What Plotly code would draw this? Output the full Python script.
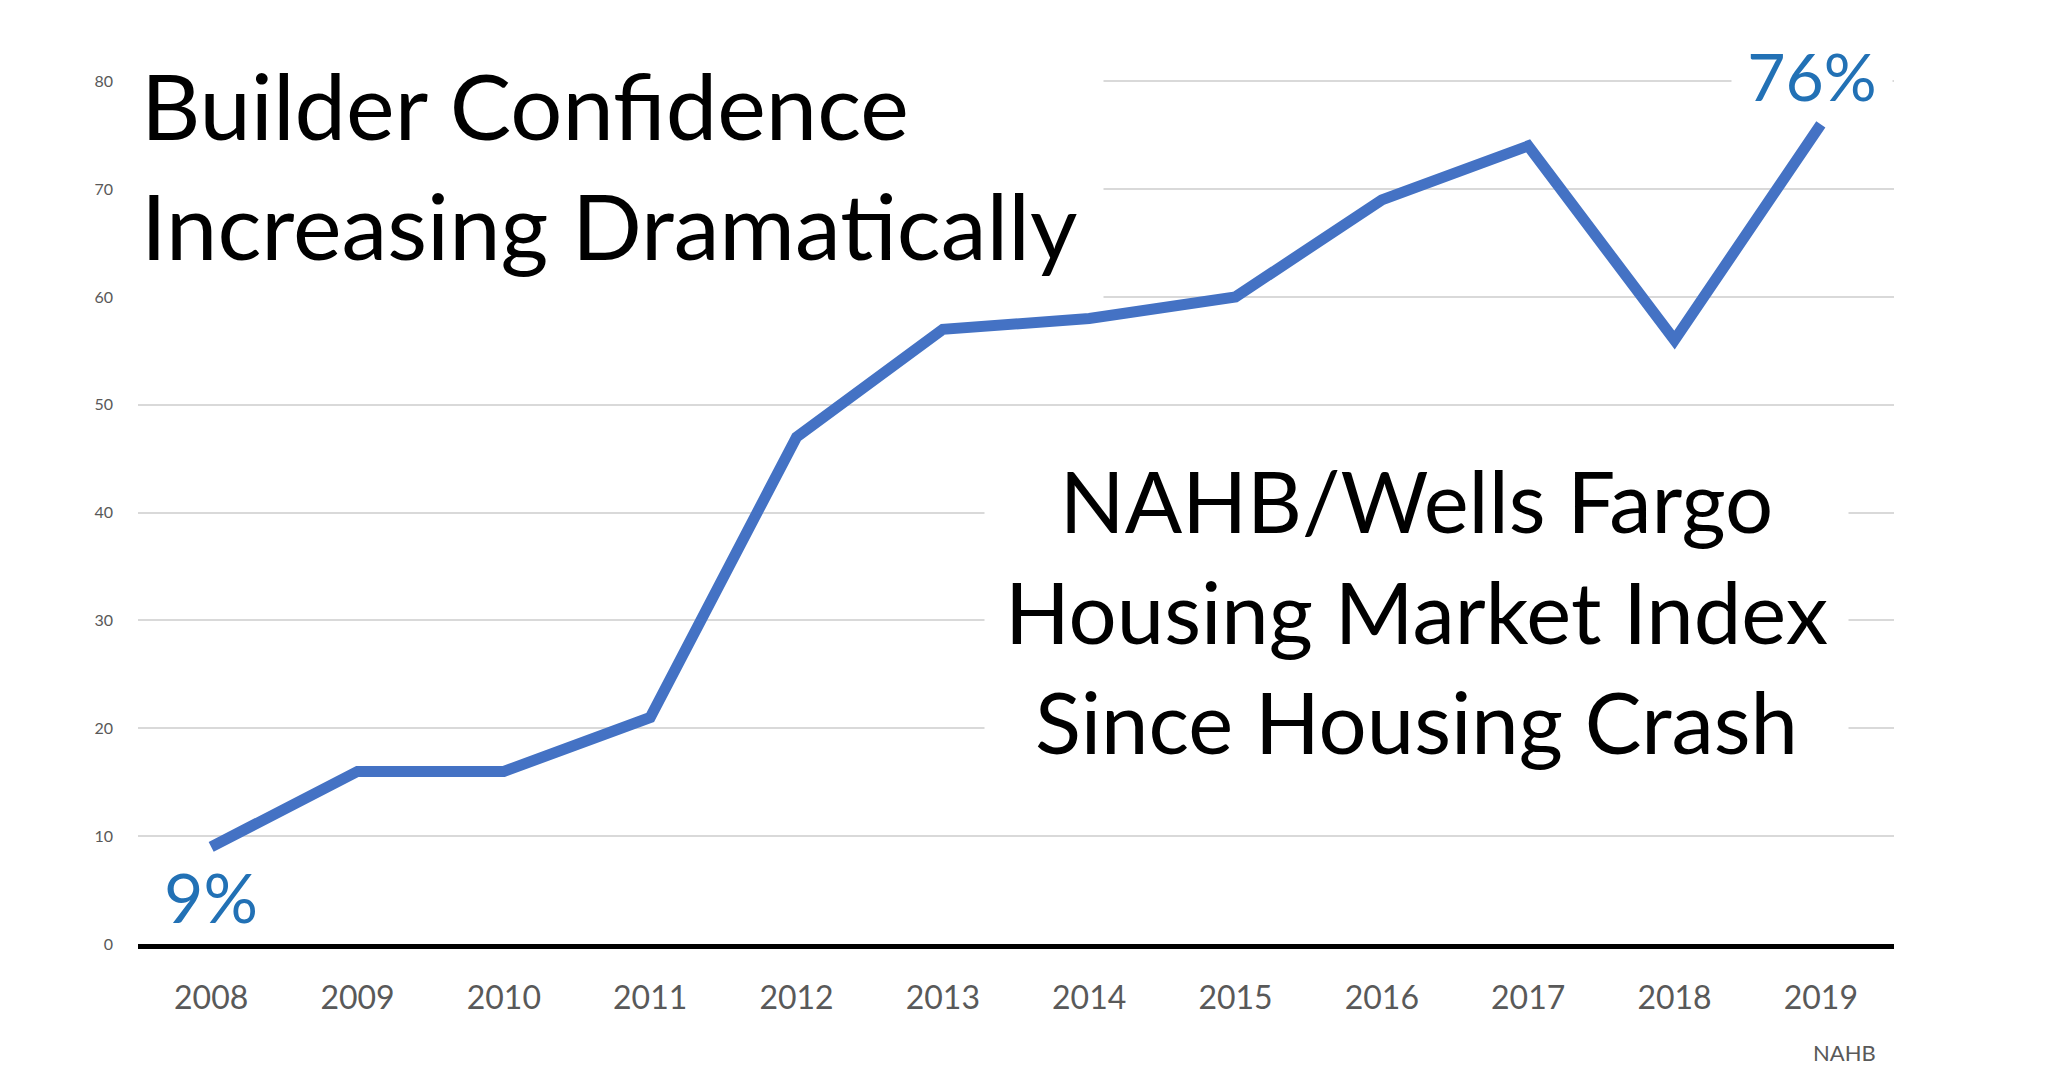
"""
Builder confidence chart: NAHB/Wells Fargo Housing Market Index since the housing crash.
"""

import plotly.graph_objects as go

# Data
years = ['2008', '2009', '2010', '2011', '2012', '2013',
         '2014', '2015', '2016', '2017', '2018', '2019']
hmi = [9, 16, 16, 21, 47, 57, 58, 60, 69, 74, 56, 76]
y_ticks = [0, 10, 20, 30, 40, 50, 60, 70, 80]

font_family = 'Lato'
blue_line = '#4472C4'
blue_text = '#2271B5'
grey_text = '#595959'

# a hair above 80 so plotly still draws the top gridline
y_top = 80.3

fig = go.Figure()

fig.add_trace(
    go.Scatter(x=years, y=hmi, mode='lines',
               line=dict(color=blue_line, width=11),
               hoverinfo='skip', showlegend=False)
)

# Headline in the upper left, white box hides the gridlines behind it
fig.add_annotation(
    text='Builder Confidence<br>Increasing Dramatically',
    xref='paper', yref='y', x=-0.0134, y=72.3, xanchor='left', yanchor='middle',
    align='left', showarrow=False, bgcolor='white', borderpad=26,
    font=dict(family=font_family, size=92, color='black')
)

# Index description on the right
fig.add_annotation(
    text='NAHB/Wells Fargo<br>Housing Market Index<br>Since Housing Crash',
    xref='paper', yref='y', x=0.728, y=30.9, xanchor='center', yanchor='middle',
    align='center', showarrow=False, bgcolor='white', borderpad=20,
    font=dict(family=font_family, size=85, color='black')
)

# First and last value labels (category axis -> use the index position)
fig.add_annotation(
    text='76%', xref='x', yref='paper', x=len(years) - 1, y=80.5 / y_top,
    xanchor='center', yanchor='middle', width=152,
    xshift=-9, showarrow=False, bgcolor='white', borderpad=4,
    font=dict(family=font_family, size=66, color=blue_text)
)
fig.add_annotation(
    text='9%', xref='x', yref='y', x=0, y=4.4,
    showarrow=False,
    font=dict(family=font_family, size=68, color=blue_text)
)

# Source
fig.add_annotation(
    text='NAHB', xref='paper', yref='paper', x=0.991, y=-0.125,
    xanchor='right', yanchor='middle', showarrow=False,
    font=dict(family=font_family, size=22, color=grey_text)
)

fig.update_xaxes(
    type='category',
    range=[-0.5, len(years) - 0.5],
    showgrid=False,
    showline=True, linecolor='black', linewidth=5,
    ticks='', ticklabelstandoff=22,
    tickfont=dict(family=font_family, size=32, color=grey_text)
)

fig.update_yaxes(
    range=[0, y_top],
    tickvals=y_ticks,
    showgrid=True, gridcolor='#D9D9D9', gridwidth=2,
    zeroline=False, showline=False,
    ticks='', ticklabelstandoff=24,
    tickfont=dict(family=font_family, size=16, color=grey_text)
)

fig.update_layout(
    width=2062,
    height=1092,
    margin=dict(l=130, r=176, t=70, b=156),
    plot_bgcolor='white',
    paper_bgcolor='white',
    font=dict(family=font_family),
    hovermode=False
)

fig.write_html("out.html")
